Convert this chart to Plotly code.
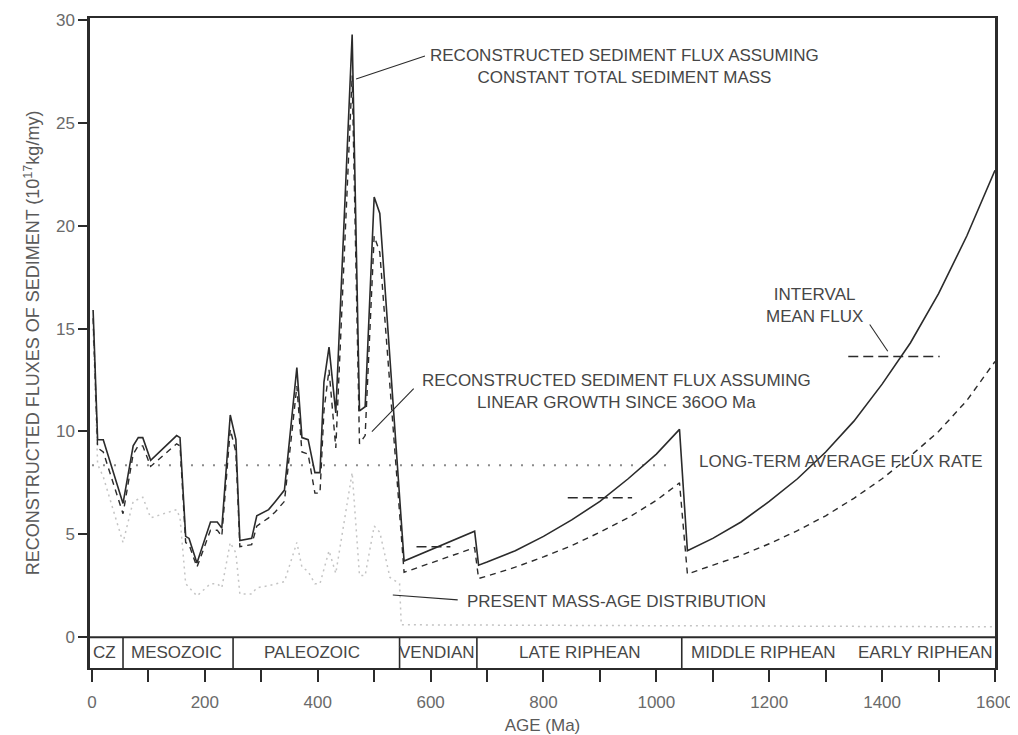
import plotly.graph_objects as go

# ---------------- data ----------------
# Reconstructed sediment flux assuming constant total sediment mass (solid)
ages_const = [2, 10, 20, 55, 73, 82, 90, 104, 150, 156, 166, 172, 186, 210, 222, 230,
              245, 255, 262, 283, 292, 313, 325, 341, 363, 372, 383, 395, 404, 411,
              420, 432, 461, 474, 484, 500, 510, 553, 678, 685, 700, 750, 800, 850,
              900, 950, 1000, 1041, 1055, 1100, 1150, 1200, 1250, 1300, 1350, 1400,
              1450, 1500, 1550, 1600]
flux_const = [15.9, 9.6, 9.6, 6.5, 9.3, 9.7, 9.7, 8.6, 9.8, 9.7, 4.9, 4.8, 3.6, 5.6, 5.6, 5.3,
              10.8, 9.6, 4.7, 4.8, 5.9, 6.2, 6.6, 7.15, 13.1, 9.7, 9.6, 8.0, 8.0, 12.4,
              14.1, 10.9, 29.3, 11.0, 11.2, 21.4, 20.6, 3.7, 5.15, 3.5, 3.65, 4.2, 4.9, 5.7,
              6.6, 7.7, 8.9, 10.1, 4.2, 4.8, 5.6, 6.6, 7.7, 9.0, 10.5, 12.3,
              14.3, 16.7, 19.5, 22.7]

# Reconstructed sediment flux assuming linear growth since 3600 Ma (dashed)
ages_linear = ages_const
flux_linear = [15.5, 9.2, 9.0, 6.0, 8.9, 9.3, 9.3, 8.3, 9.4, 9.3, 4.6, 4.5, 3.4, 5.2, 5.2, 4.9,
               10.1, 9.0, 4.4, 4.5, 5.4, 5.8, 6.1, 6.6, 12.2, 9.0, 8.9, 7.0, 7.0, 11.0,
               13.0, 9.2, 27.3, 9.4, 9.8, 19.5, 18.7, 3.15, 4.35, 2.85, 2.97, 3.4, 3.9, 4.45,
               5.1, 5.8, 6.65, 7.5, 3.07, 3.5, 3.97, 4.54, 5.18, 5.9, 6.75, 7.7,
               8.8, 10.0, 11.5, 13.4]

# Present mass-age distribution (light dotted)
ages_present = [2, 10, 20, 55, 73, 90, 104, 150, 156, 166, 186, 210, 222, 230, 245, 255,
                262, 283, 292, 313, 341, 363, 372, 383, 395, 404, 420, 432, 461, 474,
                484, 500, 510, 528, 545, 548, 1600]
mass_present = [15.0, 8.4, 7.8, 4.6, 6.6, 6.8, 5.8, 6.2, 5.8, 2.6, 2.0, 2.6, 2.6, 2.4, 4.6, 4.1,
                2.1, 2.1, 2.4, 2.5, 2.7, 4.6, 3.4, 3.2, 2.6, 2.6, 4.2, 3.1, 8.0, 3.0,
                3.0, 5.4, 5.1, 2.9, 2.6, 0.6, 0.5]

# Long-term average flux rate
longterm_ages = [0, 1030]
longterm_value = 8.36

# Interval mean fluxes (start age, end age, value)
interval_start = [575, 843, 1340]
interval_end = [635, 957, 1502]
interval_value = [4.39, 6.78, 13.64]

# Geological eras in the bottom band
era_names = ["CZ", "MESOZOIC", "PALEOZOIC", "VENDIAN", "LATE RIPHEAN", "MIDDLE RIPHEAN", "EARLY RIPHEAN"]
era_label_age = [23, 150, 390, 611, 865, 1189, 1476]
era_bounds = [55, 250, 545, 682, 1045]

# axis ticks
x_tickvals = list(range(0, 1800, 200))
x_ticktext = [str(v) for v in x_tickvals]
x_minor_tickvals = list(range(100, 1600, 200))
y_tickvals = [0, 5, 10, 15, 20, 25, 30]

# ---------------- figure ----------------
FONT = "Arial, 'Liberation Sans', Helvetica, sans-serif"
LINE = "#2b2b2b"
TEXT = "#464646"
BAND_BOTTOM = -1.5

fig = go.Figure()

fig.add_trace(go.Scatter(x=ages_present, y=mass_present, mode="lines",
                         line=dict(color="#c4c4c4", width=1.5, dash="2px,4px"),
                         showlegend=False, hoverinfo="skip"))
fig.add_trace(go.Scatter(x=longterm_ages, y=[longterm_value] * len(longterm_ages), mode="lines",
                         line=dict(color="#8a8a8a", width=2, dash="2px,9px"),
                         showlegend=False, hoverinfo="skip"))
fig.add_trace(go.Scatter(x=ages_linear, y=flux_linear, mode="lines",
                         line=dict(color=LINE, width=1.4, dash="6px,5px"),
                         showlegend=False, hoverinfo="skip"))
fig.add_trace(go.Scatter(x=ages_const, y=flux_const, mode="lines",
                         line=dict(color=LINE, width=1.6),
                         showlegend=False, hoverinfo="skip"))
for a0, a1, v in zip(interval_start, interval_end, interval_value):
    fig.add_trace(go.Scatter(x=[a0, a1], y=[v, v], mode="lines",
                             line=dict(color=LINE, width=1.5, dash="10px,5px"),
                             showlegend=False, hoverinfo="skip"))

shapes = []
# horizontal line at zero separating the era band
shapes.append(dict(type="line", xref="paper", yref="y", x0=0, x1=1, y0=0, y1=0,
                   line=dict(color=LINE, width=2)))
for b in era_bounds:
    shapes.append(dict(type="line", xref="x", yref="y", x0=b, x1=b, y0=BAND_BOTTOM, y1=0,
                       line=dict(color=LINE, width=1.6)))
# leader lines
leaders = [((468, 27.13), (590, 28.25)),
           ((496, 9.99), (570, 12.08)),
           ((533, 2.05), (648, 1.81)),
           ((1378, 15.2), (1410, 13.9))]
for (xa, ya), (xb, yb) in leaders:
    shapes.append(dict(type="line", xref="x", yref="y", x0=xa, y0=ya, x1=xb, y1=yb,
                       line=dict(color=LINE, width=1.1)))

annotations = []
for name, a in zip(era_names, era_label_age):
    annotations.append(dict(x=a, y=BAND_BOTTOM / 2, xref="x", yref="y", text=name,
                            showarrow=False, font=dict(family=FONT, size=17, color=TEXT)))

labels = [
    (944, 27.73, "RECONSTRUCTED SEDIMENT FLUX ASSUMING<br>CONSTANT TOTAL SEDIMENT MASS"),
    (930, 11.96, "RECONSTRUCTED SEDIMENT FLUX ASSUMING<br>LINEAR GROWTH SINCE 36OO Ma"),
    (929, 1.75, "PRESENT MASS-AGE DISTRIBUTION"),
    (1327, 8.53, "LONG-TERM AVERAGE FLUX RATE"),
    (1281, 16.1, "INTERVAL<br>MEAN FLUX"),
]
for x, y, t in labels:
    annotations.append(dict(x=x, y=y, xref="x", yref="y", text=t, showarrow=False,
                            align="center", font=dict(family=FONT, size=17, color=TEXT)))

# the page body adds an 8px offset, so the figure is sized to fit the 1018x735 window
fig.update_layout(
    width=1010, height=727,
    margin=dict(l=82, r=23, t=10, b=67),
    paper_bgcolor="white", plot_bgcolor="white",
    font=dict(family=FONT, size=16, color=TEXT),
    shapes=shapes, annotations=annotations,
    xaxis=dict(range=[-3.5, 1600], tickvals=x_tickvals, ticktext=x_ticktext,
               ticks="outside", ticklen=12, tickwidth=1.5, tickcolor=LINE,
               ticklabelstandoff=6,
               minor=dict(tickvals=x_minor_tickvals, ticks="outside", ticklen=12,
                          tickwidth=1.5, tickcolor=LINE),
               showline=True, linecolor=LINE, linewidth=1.8, mirror=True,
               showgrid=False, zeroline=False, automargin=False,
               tickfont=dict(family=FONT, size=17, color="#6a6a6a"),
               title=dict(text="AGE (Ma)", font=dict(family=FONT, size=17, color="#5a5a5a"),
                          standoff=8)),
    yaxis=dict(range=[BAND_BOTTOM, 30.1], tickvals=y_tickvals,
               ticks="outside", ticklen=9, tickwidth=1.5, tickcolor=LINE,
               showline=True, linecolor=LINE, linewidth=2.5, mirror=True,
               showgrid=False, zeroline=False, automargin=False,
               tickfont=dict(family=FONT, size=17, color="#6a6a6a"),
               title=dict(text="RECONSTRUCTED FLUXES OF SEDIMENT (10<sup>17</sup>kg/my)",
                          font=dict(family=FONT, size=18, color="#5a5a5a"), standoff=12)),
)

fig.write_html("out.html")
